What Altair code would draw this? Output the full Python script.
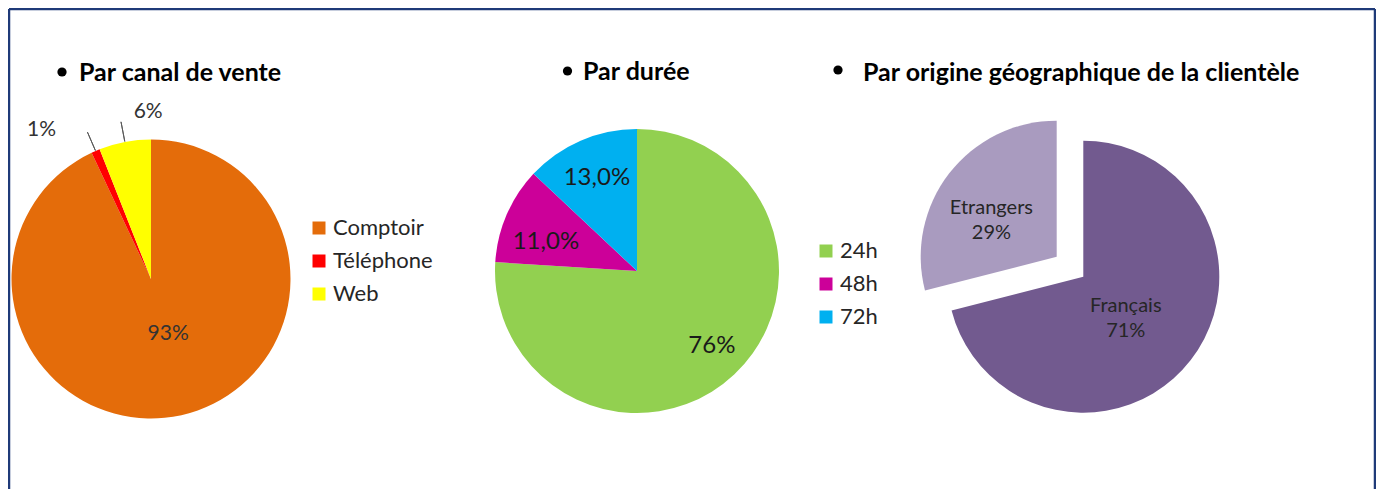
import math
import altair as alt
import pandas as pd

FONT = "Lato"

# ---------------- data ----------------
canal_cats = ["Comptoir", "Téléphone", "Web"]
canal_vals = [93, 1, 6]
canal_labels = ["93%", "1%", "6%"]
canal_colors = ["#E46C0A", "#FF0000", "#FFFF00"]

duree_cats = ["24h", "48h", "72h"]
duree_vals = [76, 11, 13]
duree_labels = ["76%", "11,0%", "13,0%"]
duree_colors = ["#92D050", "#CC0099", "#00B0F0"]

origine_cats = ["Français", "Etrangers"]
origine_vals = [71, 29]
origine_labels = ["71%", "29%"]
origine_colors = ["#725A8F", "#A99BBF"]

titles = ["Par canal de vente", "Par durée", "Par origine géographique de la clientèle"]


def pie_base(cats, vals, labels):
    df = pd.DataFrame({"cat": cats, "value": vals, "label": labels,
                       "order": list(range(len(cats)))})
    return (alt.Chart(df)
            .transform_joinaggregate(total="sum(value)")
            .transform_window(cum="sum(value)", sort=[alt.SortField("order")],
                              frame=[None, 0])
            .transform_calculate(start="(datum.cum - datum.value) / datum.total",
                                 end="datum.cum / datum.total",
                                 mid="(datum.cum - datum.value / 2) / datum.total"))


TSCALE = alt.Scale(domain=[0, 1], range=[0, 2 * math.pi])


def legend(x, y):
    return alt.Legend(orient="none", legendX=x, legendY=y, title=None,
                      symbolType="square", symbolSize=169, symbolStrokeWidth=0,
                      labelFont=FONT, labelFontSize=22, labelColor="#262626",
                      labelOffset=3, rowPadding=11, padding=0)


layers = []

# ---------- pie 1 : canal de vente ----------
C1 = dict(x=143, y=271)
b1 = pie_base(canal_cats, canal_vals, canal_labels)
layers.append(b1.mark_arc(radius=139.5, **C1).encode(
    theta=alt.Theta("start:Q", scale=TSCALE),
    theta2="end:Q",
    color=alt.Color("cat:N", scale=alt.Scale(domain=canal_cats, range=canal_colors),
                    legend=legend(300, 209)),
))
# leader lines (radial)
layers.append(b1.transform_filter("datum.value < 10").mark_arc(
    radius=160, radius2=140, fillOpacity=0, stroke="#595959", strokeWidth=1, **C1
).encode(theta=alt.Theta("mid:Q", scale=TSCALE), theta2="mid:Q"))
lab1 = [("Comptoir", 56, 5, 0), ("Téléphone", 170, -42, 7), ("Web", 170, 29, 0)]
for cat, r, dx, dy in lab1:
    layers.append(b1.transform_filter(alt.datum.cat == cat).mark_text(
        radius=r, dx=dx, dy=dy, font=FONT, fontSize=21, color="#333333", **C1
    ).encode(theta=alt.Theta("mid:Q", scale=TSCALE), text="label:N"))

# ---------- pie 2 : durée ----------
C2 = dict(x=629, y=263)
b2 = pie_base(duree_cats, duree_vals, duree_labels)
layers.append(b2.mark_arc(radius=142, **C2).encode(
    theta=alt.Theta("start:Q", scale=TSCALE),
    theta2="end:Q",
    color=alt.Color("cat:N", scale=alt.Scale(domain=duree_cats, range=duree_colors),
                    legend=legend(807, 232)),
))
lab2 = [("24h", 105, 3, -2), ("48h", 96, -3, 9), ("72h", 101, 0, 0)]
for cat, r, dx, dy in lab2:
    layers.append(b2.transform_filter(alt.datum.cat == cat).mark_text(
        radius=r, dx=dx, dy=dy, font=FONT, fontSize=24, color="#1a1a1a", **C2
    ).encode(theta=alt.Theta("mid:Q", scale=TSCALE), text="label:N"))

# ---------- pie 3 : origine ----------
C3 = dict(x=1075.3, y=268.7)
b3 = pie_base(origine_cats, origine_vals, origine_labels).transform_calculate(
    txt="datum.cat + '\\n' + datum.label")
explode = {"Français": (0, 0), "Etrangers": (-26.6, -20)}
lab3 = {"Français": (55, -1, -4.5), "Etrangers": (75, -6, -2.5)}
for i, cat in enumerate(origine_cats):
    ox, oy = explode[cat]
    sub = b3.transform_filter(alt.datum.cat == cat)
    layers.append(sub.mark_arc(radius=136, xOffset=ox, yOffset=oy, **C3).encode(
        theta=alt.Theta("start:Q", scale=TSCALE),
        theta2="end:Q",
        color=alt.Color("cat:N", scale=alt.Scale(domain=origine_cats, range=origine_colors),
                        legend=None),
    ))
    r, dx, dy = lab3[cat]
    layers.append(sub.mark_text(
        radius=r, dx=dx + ox, dy=dy + oy, font=FONT, fontSize=20, color="#262626",
        lineBreak="\n", lineHeight=25, **C3
    ).encode(theta=alt.Theta("mid:Q", scale=TSCALE), text="txt:N"))

# ---------- titles ----------
title_pos = [(54, 64, 71, 72.5), (559.5, 63, 575, 72), (830, 62, 855, 73)]
for t, (bx, by, tx, ty) in zip(titles, title_pos):
    tdf = alt.Chart(pd.DataFrame({"t": [t]}))
    layers.append(tdf.mark_circle(size=85, color="black", opacity=1).encode(
        x=alt.value(bx), y=alt.value(by)))
    layers.append(tdf.mark_text(align="left", baseline="alphabetic", font=FONT,
                                fontSize=25, fontWeight="bold", color="black").encode(
        x=alt.value(tx), y=alt.value(ty), text="t:N"))

# ---------- frame ----------
H = 481
BORDER = "#1F3A78"
frame = alt.Chart(pd.DataFrame({"k": [0]}))
layers.append(frame.mark_rule(color=BORDER, strokeWidth=2.5).encode(
    x=alt.value(1), y=alt.value(1), y2=alt.value(H)))
layers.append(frame.mark_rule(color=BORDER, strokeWidth=2.5).encode(
    x=alt.value(1), x2=alt.value(1367), y=alt.value(1)))
layers.append(frame.mark_rule(color=BORDER, strokeWidth=2.5).encode(
    x=alt.value(1367), y=alt.value(1), y2=alt.value(H)))

chart = (alt.layer(*layers)
         .resolve_scale(color="independent")
         .properties(width=1368, height=H, padding=0, autosize="none",
                     background="white")
         .configure_view(stroke=None))

chart.save("out.html", embed_options={"renderer": "svg", "actions": False})
